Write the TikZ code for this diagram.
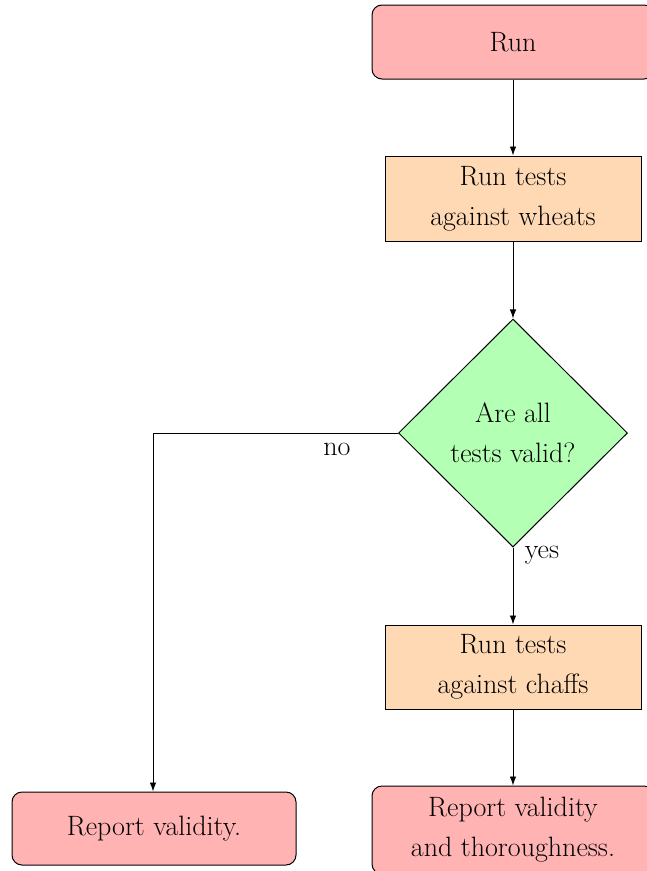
\documentclass[tikz,border=0pt]{standalone}
\usetikzlibrary{shapes.geometric,arrows.meta}
\definecolor{termfill}{HTML}{FFB3B3}
\definecolor{procfill}{HTML}{FFD9B3}
\definecolor{decfill}{HTML}{B3FFB3}
\begin{document}
\begin{tikzpicture}[x=1pt,y=-1pt,
  every node/.style={font=\fontsize{28}{40}\selectfont},
  termbox/.style={draw, line width=1pt, fill=termfill, rounded corners=10pt, align=center, inner sep=0pt},
  procbox/.style={draw, line width=1pt, fill=procfill, align=center, inner sep=0pt},
  decbox/.style={draw, line width=1pt, fill=decfill, diamond, align=center, inner sep=0pt, minimum width=229pt, minimum height=228pt},
  conn/.style={draw, line width=0.9pt, -{Latex[length=9pt,width=6.5pt]}},
  lbl/.style={inner sep=0pt}
]
\useasboundingbox (0,0) rectangle (646,871);
\node[termbox, minimum width=282pt, minimum height=74pt] (run) at (513,42) {Run};
\node[procbox, minimum width=256pt, minimum height=85pt] (wheat) at (513,198.5) {Run tests\\against wheats};
\node[decbox] (dec) at (513,433) {Are all\\tests valid?};
\node[procbox, minimum width=256pt, minimum height=84pt] (chaff) at (513,667) {Run tests\\against chaffs};
\node[termbox, minimum width=284pt, minimum height=73pt] (repv) at (154,828.5) {Report validity.};
\node[termbox, minimum width=282pt, minimum height=88pt] (rept) at (513,830) {Report validity\\and thoroughness.};
\coordinate (corner) at (153,433);
\draw[conn] (run) -- (wheat);
\draw[conn] (wheat) -- (dec);
\draw[conn] (dec.south) -- (chaff.north);
\draw[conn] (chaff) -- (rept);
\draw[conn] (dec.west) -- (corner) -- (repv.north -| corner);
\node[lbl] (no) at (337,449) {no};
\node[lbl] (yes) at (542,555) {yes};
\end{tikzpicture}
\end{document}
